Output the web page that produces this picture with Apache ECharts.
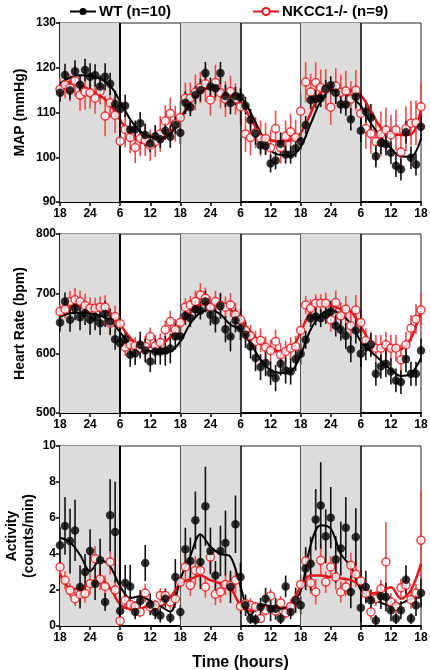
<!DOCTYPE html>
<html><head><meta charset="utf-8">
<script src="https://cdn.jsdelivr.net/npm/echarts@6/dist/echarts.min.js"></script>
<style>html,body{margin:0;padding:0;background:#fff}#c{width:430px;height:670px}</style>
</head><body><div id="c"></div>
<script>
// ---- data (hour index 0..72 = 18:00 day 1 .. 18:00 day 4) ----
const tickLabels = ['18','24','6','12','18','24','6','12','18','24','6','12','18'];
const trendHours = [0,2,4,6,8,10,12,14,16,18,20,22,24,26,28,30,32,34,36,38,40,42,44,46,48,50,52,54,56,58,60,62,64,66,68,70,72];

// MAP (mmHg)
const mapWT = [114.4,118.4,114.9,119.2,116.2,119.5,118.0,118.3,115.8,118.0,116.4,111.9,110.8,111.5,106.2,106.2,107.6,105.0,103.1,104.7,104.0,105.9,104.6,107.2,105.5,112.2,111.2,113.9,115.0,118.8,115.8,115.4,118.8,113.7,112.1,113.7,113.4,111.5,108.3,105.3,102.7,102.5,98.6,99.3,103.0,100.6,100.6,102.0,103.6,107.2,112.8,113.0,113.2,115.3,116.1,114.4,111.8,111.8,108.5,113.5,105.9,110.2,108.9,100.2,103.2,102.9,101.0,98.1,97.3,105.6,99.9,98.4,106.8];
const mapWTerr = [2.0,2.5,2.0,2.5,2.0,2.5,3.0,2.5,2.5,3.0,2.5,3.0,2.5,2.5,2.5,2.0,2.5,2.5,2.0,2.5,2.0,2.0,2.5,2.0,2.5,2.5,2.0,2.0,2.5,2.5,2.0,2.0,2.5,2.5,2.5,2.0,2.0,2.0,2.5,2.5,2.0,2.0,2.0,2.0,2.5,2.0,2.0,2.0,2.0,2.0,2.0,2.0,2.0,2.0,2.0,2.5,2.0,2.5,2.5,2.5,2.5,2.5,3.0,2.5,2.5,2.5,2.5,2.5,2.5,2.5,2.5,2.5,3.0];
const mapKO = [115.2,116.2,115.5,117.1,113.9,114.6,114.4,113.2,114.8,109.2,112.2,109.4,103.6,106.2,104.4,102.2,104.2,103.8,102.7,103.5,105.2,108.1,109.8,107.5,108.9,113.2,113.2,114.5,115.6,116.4,112.8,116.7,114.4,113.0,114.7,113.0,111.3,105.2,104.4,105.5,104.2,104.2,102.1,106.4,102.1,104.7,105.7,104.4,110.3,116.8,114.6,116.7,115.6,115.2,111.2,115.9,114.5,114.8,113.0,115.0,109.8,106.4,105.3,103.5,105.2,106.1,105.0,106.1,101.2,106.4,107.6,107.7,111.3];
const mapKOerr = [2.5,3.0,3.0,3.5,3.5,4.0,3.5,3.5,3.0,4.5,3.5,4.0,4.0,4.0,3.5,3.5,4.0,3.5,3.5,3.5,4.0,3.5,3.5,4.0,3.5,3.5,3.5,4.0,3.5,4.0,3.5,4.0,3.5,4.0,3.5,3.5,4.0,4.0,4.0,3.5,4.0,3.5,4.0,4.0,3.5,3.5,4.0,4.0,4.0,4.5,4.0,4.5,4.0,4.5,4.0,4.0,4.0,4.5,4.0,4.5,4.5,4.5,4.5,5.0,5.0,5.0,4.5,4.5,4.5,5.0,5.0,5.0,5.5];
const mapWTtrend = [116.5,117.8,118.3,118.2,117.5,116.0,112.5,108.5,105.8,104.6,104.4,105.2,108.5,112.0,114.8,115.6,115.0,113.9,113.4,110.0,105.5,101.6,100.5,100.4,102.3,107.5,112.5,115.0,114.7,113.4,111.5,107.6,104.5,102.0,100.2,100.1,104.2];
const mapKOtrend = [115.8,116.8,116.2,115.0,113.8,111.8,108.3,105.2,103.4,103.1,103.8,105.6,108.8,112.2,114.6,115.5,114.8,113.8,112.2,108.7,105.2,103.8,103.6,103.8,105.4,109.8,114.5,115.3,115.0,115.0,113.8,110.4,106.6,105.4,105.0,105.1,110.6];

// Heart rate (bpm)
const hrWT = [651.6,686.8,656.1,675.6,660.6,667.3,656.1,660.6,650.5,666.1,653.3,623.8,617.1,623.8,597.5,600.3,614.3,604.8,586.4,603.1,603.1,604.2,608.0,628.2,628.2,662.8,658.9,674.0,671.7,686.8,664.5,655.0,679.5,640.5,628.2,655.0,642.2,631.0,611.5,592.0,576.9,583.6,566.9,558.5,582.5,571.3,569.7,590.3,599.2,622.6,658.9,661.7,658.9,664.5,670.0,646.1,639.4,629.3,607.0,638.3,599.2,610.4,614.3,565.8,578.0,582.5,569.7,554.6,551.8,590.3,565.8,565.8,604.8];
const hrWTerr = [15,15,20,20,22,20,25,22,20,22,22,18,15,15,20,20,22,20,18,22,22,25,25,22,18,15,15,15,15,18,18,20,22,22,25,20,20,22,20,22,22,22,20,22,20,22,22,20,18,15,15,15,15,15,18,18,18,22,22,22,22,22,20,20,20,22,22,20,20,22,20,20,20];
const hrKO = [670.0,673.9,686.8,689.6,686.8,680.0,675.6,675.6,677.3,677.3,650.5,661.7,649.4,610.4,614.3,612.6,608.7,611.5,628.2,612.6,618.2,639.4,653.3,639.4,651.6,677.3,681.2,686.8,697.9,692.4,677.3,686.8,680.0,677.3,681.2,664.5,656.1,638.3,629.3,619.9,621.5,610.4,604.8,619.9,597.5,603.1,608.7,611.5,638.3,681.2,675.6,684.0,684.0,684.0,656.1,685.1,662.8,673.9,646.1,672.8,651.6,621.5,614.3,608.7,608.7,614.3,608.7,608.7,589.2,614.3,642.2,657.2,672.8];
const hrKOerr = [12,15,18,20,18,20,18,18,18,20,20,18,18,15,15,15,18,18,15,18,15,15,18,18,15,15,15,18,20,18,18,18,18,18,20,20,18,18,18,18,20,18,18,20,20,18,18,18,18,15,15,15,15,18,20,20,22,22,25,25,22,20,20,22,22,22,22,22,25,22,22,25,28];
const hrWTtrend = [661,667,668,667,663,655,635,616,607,604,601,603,620,650,668,673,665,648,640,616,590,572,567,569,598,640,664,672,665,650,620,603,588,573,562,566,592];
const hrKOtrend = [672,678,680,678,675,668,648,626,613,611,614,627,650,668,682,683,678,673,656,636,618,609,603,606,636,670,684,680,674,670,645,618,609,606,607,625,672];

// Activity (counts/min)
const actWT = [4.48,5.56,4.72,5.31,2.17,3.0,4.17,2.35,3.65,1.33,6.15,5.22,0.83,2.39,2.2,0.78,1.39,3.5,1.2,0.78,0.59,1.52,0.46,2.72,0.78,4.26,3.61,5.87,3.56,6.65,4.17,2.81,4.17,4.61,2.17,5.65,2.72,1.15,0.41,0.35,1.06,1.52,0.96,0.96,0.41,2.2,0.78,1.43,1.15,3.19,3.46,5.91,6.7,4.98,6.02,3.69,4.3,5.46,1.89,4.94,1.02,2.17,1.43,0.31,1.65,1.61,0.87,0.41,0.87,2.57,0.41,1.15,1.83];
const actWTerr = [1.0,1.6,1.8,1.7,1.2,1.0,1.2,0.9,1.2,0.5,2.0,2.8,0.6,1.0,1.2,0.4,0.6,1.0,0.6,0.4,0.4,0.5,0.3,1.0,0.4,1.2,1.3,1.6,1.5,2.2,1.3,0.8,1.4,1.8,0.9,1.6,0.8,0.6,0.3,0.3,0.5,0.6,0.7,0.6,0.3,0.6,0.4,0.7,0.5,1.2,1.5,1.7,2.4,1.5,1.7,1.3,1.5,1.7,0.9,1.6,0.8,0.9,0.6,0.3,0.7,0.8,0.6,0.3,0.5,0.8,0.3,0.6,0.8];
const actKO = [3.28,2.54,1.98,1.52,1.75,1.8,2.35,3.74,2.6,2.2,3.56,2.0,0.28,1.43,1.2,1.09,0.78,1.83,1.06,1.15,1.7,1.7,1.33,1.5,2.44,3.28,2.26,3.09,3.09,2.17,3.83,1.76,1.89,2.31,2.26,2.54,1.09,1.24,1.15,1.06,0.41,0.87,1.67,0.83,1.28,0.72,1.09,1.43,2.31,3.61,2.39,1.89,3.65,2.44,3.28,2.72,1.89,2.17,3.37,2.87,2.5,1.8,0.78,1.52,2.07,3.56,1.33,1.09,2.13,2.26,1.46,1.83,4.76];
const actKOerr = [0.4,0.5,0.4,0.4,0.5,0.5,0.6,0.7,0.6,0.6,0.7,0.5,0.3,0.4,0.4,0.3,0.3,0.5,0.3,0.3,0.4,0.4,0.4,0.5,0.5,0.8,0.6,0.8,0.6,0.6,0.8,0.6,0.6,0.6,0.6,0.7,0.4,0.4,0.4,0.3,0.2,0.3,0.4,0.3,0.4,0.3,0.4,0.4,0.5,0.6,0.6,0.7,0.9,0.6,0.6,0.7,0.6,0.5,0.7,0.7,0.6,0.5,0.4,0.4,0.5,2.2,0.5,0.4,0.5,0.6,0.5,0.5,2.8];
const actWTtrend = [4.9,4.65,3.95,3.05,3.65,3.3,2.2,1.55,1.65,1.4,1.1,0.8,2.6,3.9,5.1,4.4,4.0,3.85,2.2,0.6,1.2,1.1,0.96,1.2,1.95,4.5,5.6,5.4,4.0,3.3,2.0,1.5,1.3,1.1,1.25,1.5,1.6];
const actKOtrend = [2.9,2.1,2.05,2.4,2.6,2.1,1.2,0.95,0.95,1.2,1.1,1.6,2.35,2.6,2.8,2.55,2.35,2.1,1.15,0.8,1.05,1.1,1.0,1.2,2.2,2.8,2.8,2.72,2.65,2.55,2.25,1.8,1.9,2.15,1.52,2.0,3.46];

const WT_NAME = 'WT (n=10)';
const KO_NAME = 'NKCC1-/- (n=9)';
const RED = '#e5161d';
const RED_BAR = '#f04a4a';
const FONT = 'Liberation Sans, Arial, sans-serif';

const panels = [
  {name:'MAP (mmHg)', min:90, max:130, interval:10, wt:mapWT, wtErr:mapWTerr, ko:mapKO, koErr:mapKOerr, wtT:mapWTtrend, koT:mapKOtrend, top:23, height:179, nameGap:31},
  {name:'Heart Rate (bpm)', min:500, max:800, interval:100, wt:hrWT, wtErr:hrWTerr, ko:hrKO, koErr:hrKOerr, wtT:hrWTtrend, koT:hrKOtrend, top:234, height:179, nameGap:31},
  {name:'Activity\n(counts/min)', min:0, max:10, interval:2, wt:actWT, wtErr:actWTerr, ko:actKO, koErr:actKOerr, wtT:actWTtrend, koT:actKOtrend, top:446, height:180, nameGap:22}
];

const grids = [], xAxes = [], yAxes = [], series = [];
function errRender(color){
  return function(params, api){
    const x = api.value(0);
    const lo = api.coord([x, api.value(1)]);
    const hi = api.coord([x, api.value(2)]);
    return {type:'line', shape:{x1:lo[0], y1:lo[1], x2:hi[0], y2:hi[1]}, style:{stroke:color, lineWidth:1.6}};
  };
}
panels.forEach((p, gi) => {
  grids.push({left:60, right:9, top:p.top, height:p.height, show:true, borderColor:'#222', borderWidth:1,
    backgroundColor:'transparent', containLabel:false, outerBoundsMode:'none'});
  xAxes.push({type:'value', gridIndex:gi, min:0, max:72, interval:6,
    axisLine:{show:true, onZero:false, lineStyle:{color:'#000', width:2}},
    axisTick:{show:true, length:4, lineStyle:{color:'#000', width:1.5}},
    splitLine:{show:false},
    axisLabel:{color:'#000', fontWeight:'bold', fontSize:12, fontFamily:FONT, margin:6,
      formatter:(v)=>tickLabels[Math.round(v/6)]},
    name: gi===2 ? 'Time (hours)' : '', nameLocation:'middle', nameGap:29, nameMoveOverlap:false,
    nameTextStyle:{color:'#000', fontWeight:'bold', fontSize:16, fontFamily:FONT}
  });
  yAxes.push({type:'value', gridIndex:gi, min:p.min, max:p.max, interval:p.interval,
    axisLine:{show:true, lineStyle:{color:'#000', width:1.5}},
    axisTick:{show:true, length:4, lineStyle:{color:'#000', width:1.5}},
    splitLine:{show:false},
    axisLabel:{color:'#000', fontWeight:'bold', fontSize:12, fontFamily:FONT, margin:4},
    name:p.name, nameLocation:'middle', nameGap:p.nameGap, nameRotate:90, nameMoveOverlap:false,
    nameTextStyle:{color:'#000', fontWeight:'bold', fontSize:14, fontFamily:FONT, lineHeight:17}
  });
  // background shading and day/night boundary lines
  series.push({type:'line', xAxisIndex:gi, yAxisIndex:gi, data:[], z:0, silent:true,
    markArea:{silent:true, itemStyle:{color:'#dcdcdc'}, data:[
      [{xAxis:0},{xAxis:12}], [{xAxis:24},{xAxis:36}], [{xAxis:48},{xAxis:60}]
    ]},
    markLine:{silent:true, symbol:'none', label:{show:false}, data:[
      {xAxis:12, lineStyle:{color:'#000', width:2, type:'solid'}},
      {xAxis:36, lineStyle:{color:'#000', width:1.5, type:'solid'}},
      {xAxis:60, lineStyle:{color:'#000', width:1.5, type:'solid'}},
      {xAxis:24, lineStyle:{color:'#555', width:1, type:'solid'}},
      {xAxis:48, lineStyle:{color:'#555', width:1, type:'solid'}}
    ]}
  });
  series.push({type:'custom', xAxisIndex:gi, yAxisIndex:gi, z:2, silent:true,
    renderItem:errRender(RED_BAR), encode:{x:0, y:[1,2]},
    data:p.ko.map((v,i)=>[i, v-p.koErr[i], v+p.koErr[i]])});
  series.push({type:'custom', xAxisIndex:gi, yAxisIndex:gi, z:3, silent:true,
    renderItem:errRender('#111'), encode:{x:0, y:[1,2]},
    data:p.wt.map((v,i)=>[i, v-p.wtErr[i], v+p.wtErr[i]])});
  series.push({type:'line', name:KO_NAME, xAxisIndex:gi, yAxisIndex:gi, z:4, smooth:0.35,
    symbol:'emptyCircle', symbolSize:8, showSymbol:false, silent:true,
    itemStyle:{color:RED, borderColor:RED, borderWidth:1.5},
    lineStyle:{color:RED, width:2.5},
    data:p.koT.map((v,i)=>[trendHours[i], v])});
  series.push({type:'line', name:WT_NAME, xAxisIndex:gi, yAxisIndex:gi, z:5, smooth:0.35,
    symbol:'circle', symbolSize:8, showSymbol:false, silent:true,
    itemStyle:{color:'#000'},
    lineStyle:{color:'#000', width:2},
    data:p.wtT.map((v,i)=>[trendHours[i], v])});
  series.push({type:'scatter', xAxisIndex:gi, yAxisIndex:gi, z:6, silent:true,
    symbol:'circle', symbolSize:8,
    itemStyle:{color:'#fff', borderColor:RED, borderWidth:1.5},
    data:p.ko.map((v,i)=>[i, v])});
  series.push({type:'scatter', xAxisIndex:gi, yAxisIndex:gi, z:7, silent:true,
    symbol:'circle', symbolSize:8.5,
    itemStyle:{color:'#000'},
    data:p.wt.map((v,i)=>[i, v])});
});

const chart = echarts.init(document.getElementById('c'), null, {renderer:'canvas'});
chart.setOption({
  animation:false,
  backgroundColor:'#fff',
  legend:[
    {data:[WT_NAME], left:69, top:4, padding:0, itemWidth:26, itemHeight:9, itemGap:0, selectedMode:false,
      textStyle:{color:'#000', fontWeight:'bold', fontSize:15, fontFamily:FONT, padding:[0,0,0,-2]}},
    {data:[KO_NAME], left:252, top:4, padding:0, itemWidth:26, itemHeight:9, itemGap:0, selectedMode:false,
      textStyle:{color:'#000', fontWeight:'bold', fontSize:15, fontFamily:FONT, padding:[0,0,0,-2]}}
  ],
  grid:grids, xAxis:xAxes, yAxis:yAxes, series:series
});
</script>
</body></html>
